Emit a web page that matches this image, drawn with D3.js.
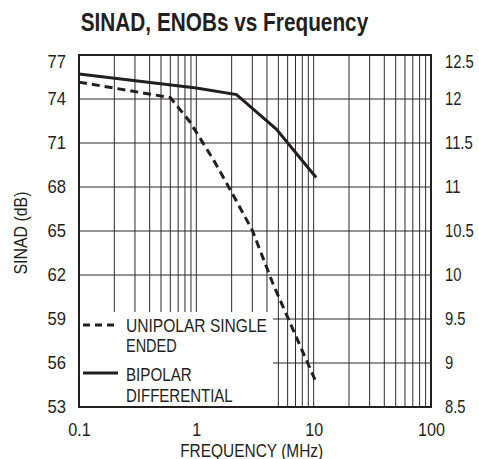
<!DOCTYPE html>
<html>
<head>
<meta charset="utf-8">
<script src="https://cdn.jsdelivr.net/npm/d3@7"></script>
<style>
  html, body { margin: 0; padding: 0; background: #fff; }
  svg { display: block; }
  text { font-family: "Liberation Sans Narrow", "Arial Narrow", "Liberation Sans", Arial, sans-serif; fill: #231f20; }
</style>
</head>
<body>
<div id="chart"></div>
<script>
// ---- data ----
const freqTicks = [0.1, 1, 10, 100];
const freqTickLabels = ["0.1", "1", "10", "100"];
const sinadTicks = [53, 56, 59, 62, 65, 68, 71, 74, 77];
const enobTicks = [8.5, 9, 9.5, 10, 10.5, 11, 11.5, 12, 12.5];
const enobTickLabels = ["8.5", "9", "9.5", "10", "10.5", "11", "11.5", "12", "12.5"];

const unipolarFreq  = [0.1, 0.6, 0.88, 1.4, 1.95, 3.0, 4.5, 10.6];
const unipolarSinad = [75.15, 74.1, 72.45, 69.85, 67.8, 65.05, 61.4, 54.6];
const bipolarFreq   = [0.1, 1.0, 2.2, 4.8, 10.5];
const bipolarSinad  = [75.7, 74.75, 74.3, 71.95, 68.65];

const seriesNames = ["UNIPOLAR SINGLE", "ENDED", "BIPOLAR", "DIFFERENTIAL"];

// ---- layout ----
const W = 479, H = 459;
const L = 79, R = 431, T = 55, B = 407;

const svg = d3.select("#chart").append("svg").attr("width", W).attr("height", H);

const x = d3.scaleLog().domain([0.1, 100]).range([L, R]);
const y = d3.scaleLinear().domain([53, 77]).range([B, T]);
const yR = d3.scaleLinear().domain([8.5, 12.5]).range([B, T]);

// minor + major vertical grid
const vGrid = [];
[0.1, 1, 10].forEach(d => { for (let k = 1; k <= 9; k++) vGrid.push(d * k); });
vGrid.push(100);

const grid = svg.append("g");
grid.selectAll("line.v").data(vGrid).enter().append("line")
  .attr("x1", d => x(d)).attr("x2", d => x(d))
  .attr("y1", T).attr("y2", B)
  .attr("stroke", "#2b2b2b").attr("stroke-width", 1);
grid.selectAll("line.h").data(sinadTicks).enter().append("line")
  .attr("x1", L).attr("x2", R)
  .attr("y1", d => y(d)).attr("y2", d => y(d))
  .attr("stroke", "#2b2b2b").attr("stroke-width", 1);

// legend background masks grid
svg.append("rect").attr("x", L + 1).attr("y", 312).attr("width", 272 - L).attr("height", B - 312)
  .attr("fill", "#fff");

// frame
svg.append("rect").attr("x", L).attr("y", T).attr("width", R - L).attr("height", B - T)
  .attr("fill", "none").attr("stroke", "#231f20").attr("stroke-width", 2);

// tick labels via axes
const fs = "18.5px";
const axL = svg.append("g").attr("transform", `translate(${L},0)`)
  .call(d3.axisLeft(y).tickValues(sinadTicks).tickSize(0).tickPadding(13).tickFormat(d3.format("d")));
const axR = svg.append("g").attr("transform", `translate(${R},0)`)
  .call(d3.axisRight(yR).tickValues(enobTicks).tickSize(0).tickPadding(14)
    .tickFormat((d, i) => enobTickLabels[i]));
const axB = svg.append("g").attr("transform", `translate(0,${B})`)
  .call(d3.axisBottom(x).tickValues(freqTicks).tickSize(0).tickPadding(16)
    .tickFormat((d, i) => freqTickLabels[i]));
[[axL, 0.9], [axR, 0.8], [axB, 0.87]].forEach(([a, k]) => {
  a.select(".domain").remove();
  a.selectAll("text").attr("font-size", fs).attr("fill", "#231f20")
    .style("font-family", '"Liberation Sans Narrow", "Arial Narrow", "Liberation Sans", Arial, sans-serif')
    .each(function () {
      const t = d3.select(this);
      const x0 = +t.attr("x") || 0;
      t.attr("x", x0 / k).attr("transform", `scale(${k},1)`);
    });
});
// top labels sit slightly lower than their gridline
axL.selectAll(".tick").filter(d => d === 77).select("text").attr("dy", "0.7em");
axR.selectAll(".tick").filter(d => d === 12.5).select("text").attr("dy", "0.7em");

// data lines
const line = d3.line().x(d => x(d[0])).y(d => y(d[1]));
const uni = unipolarFreq.map((f, i) => [f, unipolarSinad[i]]);
const bip = bipolarFreq.map((f, i) => [f, bipolarSinad[i]]);

svg.append("path").datum(bip).attr("d", line)
  .attr("fill", "none").attr("stroke", "#231f20").attr("stroke-width", 3);
svg.append("path").datum(uni).attr("d", line)
  .attr("fill", "none").attr("stroke", "#231f20").attr("stroke-width", 3)
  .attr("stroke-dasharray", "8,5");

// legend
svg.append("line").attr("x1", 83).attr("x2", 118).attr("y1", 325).attr("y2", 325)
  .attr("stroke", "#231f20").attr("stroke-width", 3).attr("stroke-dasharray", "7,5");
svg.append("line").attr("x1", 83).attr("x2", 118).attr("y1", 373).attr("y2", 373)
  .attr("stroke", "#231f20").attr("stroke-width", 3);

const legTxt = [
  { t: seriesNames[0], y: 332, w: 141 },
  { t: seriesNames[1], y: 352.3, w: 50.7 },
  { t: seriesNames[2], y: 381, w: 65.7 },
  { t: seriesNames[3], y: 401.7, w: 106.7 }
];
svg.selectAll("text.leg").data(legTxt).enter().append("text")
  .attr("class", "leg")
  .attr("x", 126).attr("y", d => d.y)
  .attr("font-size", "19px")
  .attr("textLength", d => d.w).attr("lengthAdjust", "spacingAndGlyphs")
  .text(d => d.t);

// titles
svg.append("text").attr("x", 80.7).attr("y", 31)
  .attr("font-size", "25px").attr("font-weight", "bold")
  .attr("textLength", 287.5).attr("lengthAdjust", "spacingAndGlyphs")
  .text("SINAD, ENOBs vs Frequency");

svg.append("text").attr("x", 251.7).attr("y", 456.5)
  .attr("text-anchor", "middle").attr("font-size", "19px")
  .attr("textLength", 143).attr("lengthAdjust", "spacingAndGlyphs")
  .text("FREQUENCY (MHz)");

svg.append("text").attr("transform", "translate(26.5,233) rotate(-90)")
  .attr("text-anchor", "middle").attr("font-size", "19px")
  .attr("textLength", 83).attr("lengthAdjust", "spacingAndGlyphs")
  .text("SINAD (dB)");
</script>
</body>
</html>
